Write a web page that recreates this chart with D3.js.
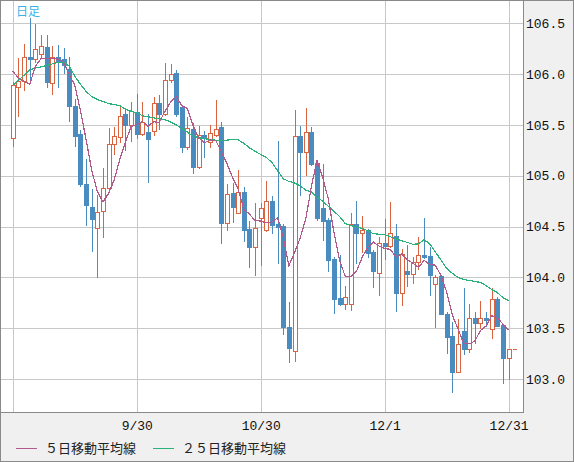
<!DOCTYPE html>
<html>
<head>
<meta charset="utf-8">
<script src="https://cdn.jsdelivr.net/npm/d3@7"></script>
<style>
  body { margin: 0; background: #fff; }
  svg { display: block; }
</style>
</head>
<body>
<div id="chart"></div>
<script>
// daily candles, 8/31 .. 12/31 (89 trading days)
const opens = [105.37,105.875,105.93,106.165,106.145,106.2,106.266,105.917,106.165,106.148,
  106.046,105.684,105.408,104.92,104.697,104.49,104.657,104.882,105.309,105.382,
  105.605,105.503,105.628,105.414,105.434,105.444,105.714,105.612,105.947,106.007,
  105.674,105.283,105.46,105.089,105.398,105.336,105.398,105.48,104.536,104.829,
  104.638,104.839,104.474,104.3,104.586,104.467,104.75,104.523,104.503,103.516,
  103.28,105.395,105.237,105.431,105.125,104.684,104.562,104.178,103.793,103.74,
  103.74,104.53,104.441,104.464,104.248,104.046,104.34,104.307,104.412,103.85,
  104.059,104.036,104.147,104.225,104.206,103.938,104.01,103.644,103.42,103.072,
  103.472,103.298,103.597,103.548,103.597,103.489,103.79,103.528,103.21];
const highs = [105.92,106.155,106.296,106.556,106.49,106.385,106.385,106.276,106.286,106.253,
  106.165,105.76,105.447,105.168,104.865,104.806,105.078,105.474,105.48,105.684,
  105.645,105.724,105.803,105.724,105.612,105.776,105.79,106.105,106.099,106.04,
  105.69,105.58,105.516,105.493,105.44,105.5,105.747,105.53,104.918,104.93,
  105.056,104.888,104.553,104.73,104.727,104.951,104.8,105.345,104.523,103.757,
  105.648,105.49,105.668,105.484,105.148,105.115,104.58,104.2,104.217,103.914,
  104.635,104.75,104.602,104.48,104.265,104.402,104.575,104.739,104.526,104.275,
  104.32,104.2,104.402,104.585,104.297,104.02,104.02,103.66,103.564,103.592,
  103.898,103.734,103.656,103.767,103.656,103.898,103.81,103.54,103.295];
const lows = [105.29,105.59,105.845,105.92,106.12,106.155,105.875,105.806,105.875,106.007,
  105.54,105.29,104.9,104.52,104.263,104.0,104.4,104.86,105.21,105.33,
  105.25,105.342,105.375,105.398,104.94,105.398,105.457,105.6,105.92,105.586,
  105.234,105.26,105.03,105.08,105.188,105.286,105.39,104.339,104.467,104.546,
  104.63,104.355,104.102,104.026,104.118,104.46,104.438,104.14,103.444,103.164,
  103.181,104.81,105.007,105.11,104.56,104.365,104.062,103.651,103.73,103.684,
  103.681,104.141,104.25,104.2,103.905,103.827,104.18,104.3,103.67,103.732,
  103.92,103.944,104.085,104.19,103.824,103.513,103.64,103.258,102.876,103.07,
  103.246,103.269,103.357,103.498,103.518,103.407,103.52,102.964,102.997];
const closes = [105.89,105.93,106.165,106.145,106.25,106.276,105.924,106.17,106.12,106.089,
  105.687,105.39,104.914,104.714,104.572,104.64,104.882,105.316,105.388,105.586,
  105.497,105.635,105.414,105.533,105.362,105.711,105.612,105.947,106.0,105.612,
  105.283,105.474,105.089,105.398,105.378,105.418,105.457,104.536,104.816,104.694,
  104.836,104.467,104.3,104.49,104.681,104.747,104.513,104.497,103.51,103.303,
  105.391,105.237,105.428,105.118,104.586,104.556,104.168,103.783,103.737,103.809,
  104.53,104.438,104.464,104.24,104.062,104.34,104.307,104.438,103.85,104.232,
  104.036,104.147,104.225,104.2,104.023,104.003,103.644,103.415,103.072,103.343,
  103.298,103.597,103.548,103.597,103.577,103.784,103.525,103.21,103.295];

const ma5 = [106.03,105.96,105.93,105.90,106.076,106.153,106.152,106.153,106.148,106.116,
  105.998,105.891,105.64,105.359,105.055,104.846,104.744,104.825,104.96,105.162,
  105.334,105.484,105.504,105.533,105.488,105.531,105.526,105.633,105.726,105.776,
  105.691,105.663,105.492,105.371,105.324,105.351,105.348,105.237,105.121,104.984,
  104.868,104.67,104.623,104.557,104.555,104.537,104.546,104.586,104.39,104.114,
  104.243,104.388,104.574,104.895,105.152,104.985,104.771,104.442,104.166,104.011,
  104.005,104.059,104.196,104.296,104.347,104.309,104.283,104.277,104.199,104.233,
  104.173,104.141,104.098,104.168,104.126,104.12,104.019,103.857,103.631,103.495,
  103.354,103.345,103.372,103.477,103.523,103.621,103.606,103.539,103.478];
const ma25 = [105.89,105.94,105.99,106.04,106.06,106.07,106.085,106.10,106.115,106.12,
  106.08,105.98,105.90,105.83,105.78,105.75,105.73,105.71,105.70,105.69,
  105.655,105.635,105.62,105.59,105.58,105.57,105.56,105.55,105.53,105.50,
  105.465,105.43,105.39,105.375,105.365,105.358,105.35,105.345,105.35,105.358,
  105.352,105.32,105.275,105.24,105.21,105.18,105.13,105.05,104.97,104.945,
  104.93,104.90,104.86,104.84,104.79,104.75,104.70,104.65,104.60,104.53,
  104.51,104.497,104.48,104.46,104.43,104.425,104.42,104.40,104.38,104.36,
  104.345,104.325,104.33,104.37,104.33,104.25,104.17,104.09,104.04,104.00,
  103.98,103.97,103.96,103.95,103.92,103.88,103.85,103.80,103.77];

const tickIdx = [0, 22, 44, 66, 88];
const tickLabels = ['', '9/30', '10/30', '12/1', '12/31'];
const yTicks = [103.0, 103.5, 104.0, 104.5, 105.0, 105.5, 106.0, 106.5];
const legendLabels = ['５日移動平均線', '２５日移動平均線'];

const UpColor = '#db6440';
const DownColor = '#4a8cc0';
const Ma5Color = '#b35a8c';
const Ma25Color = '#2bb27a';
const GridColor = '#c8c8c8';
const BorderColor = '#8a8a8a';

const width = 574;
const height = 462;
const plotRight = 523;
const plotBottom = 412;

const svg = d3
  .select('#chart')
  .append('svg')
  .attr('width', width)
  .attr('height', height);

svg.append('rect').attr('width', width).attr('height', height).attr('fill', '#f0f0f0');

svg
  .append('rect')
  .attr('x', 0.5)
  .attr('y', 0.5)
  .attr('width', plotRight)
  .attr('height', plotBottom)
  .attr('fill', '#fff')
  .attr('stroke', BorderColor);

const xScale = d3.scaleLinear().domain([0, closes.length - 1]).range([12.8, 508.6]);
const yScale = d3.scaleLinear().domain([103, 106.5]).range([379, 23.3]);

const px = (i) => Math.round(xScale(i));
const py = (v) => Math.round(yScale(v));

// grid
const grid = svg.append('g').attr('shape-rendering', 'crispEdges');
grid
  .selectAll('.hgrid')
  .data(yTicks)
  .join('line')
  .attr('x1', 1)
  .attr('x2', plotRight)
  .attr('y1', (d) => py(d) + 0.5)
  .attr('y2', (d) => py(d) + 0.5)
  .attr('stroke', GridColor);
grid
  .selectAll('.vgrid')
  .data(tickIdx)
  .join('line')
  .attr('x1', (d) => px(d) + 0.5)
  .attr('x2', (d) => px(d) + 0.5)
  .attr('y1', 1)
  .attr('y2', plotBottom)
  .attr('stroke', GridColor);

// candles
const candles = svg.append('g').attr('shape-rendering', 'crispEdges');
const idx = d3.range(closes.length);

candles
  .selectAll('.wick')
  .data(idx)
  .join('line')
  .attr('x1', (i) => px(i) + 0.5)
  .attr('x2', (i) => px(i) + 0.5)
  .attr('y1', (i) => py(highs[i]))
  .attr('y2', (i) => py(lows[i]) + 1)
  .attr('stroke', (i) => (closes[i] >= opens[i] ? UpColor : DownColor));

candles
  .selectAll('.down')
  .data(idx.filter((i) => closes[i] < opens[i]))
  .join('rect')
  .attr('x', (i) => px(i) - 2)
  .attr('y', (i) => py(opens[i]))
  .attr('width', 5)
  .attr('height', (i) => Math.max(2, py(closes[i]) - py(opens[i]) + 1))
  .attr('fill', DownColor);

candles
  .selectAll('.up')
  .data(idx.filter((i) => closes[i] >= opens[i]))
  .join('rect')
  .attr('x', (i) => px(i) - 1.5)
  .attr('y', (i) => py(closes[i]) + 0.5)
  .attr('width', 4)
  .attr('height', (i) => Math.max(1, py(opens[i]) - py(closes[i])))
  .attr('fill', '#fff')
  .attr('stroke', UpColor);

// last price marker
const last = closes.length - 1;
svg
  .append('line')
  .attr('shape-rendering', 'crispEdges')
  .attr('x1', px(last) + 4)
  .attr('x2', px(last) + 8)
  .attr('y1', py(closes[last]) + 0.5)
  .attr('y2', py(closes[last]) + 0.5)
  .attr('stroke', UpColor);

// moving averages (drawn without antialiasing, like the original)
const maLine = (arr) =>
  d3
    .line()
    .x((i) => xScale(i))
    .y((i) => yScale(arr[i]))(idx);

svg
  .append('path')
  .attr('d', maLine(ma25))
  .attr('fill', 'none')
  .attr('shape-rendering', 'crispEdges')
  .attr('stroke', Ma25Color)
  .attr('stroke-width', 1.2);
svg
  .append('path')
  .attr('d', maLine(ma5))
  .attr('fill', 'none')
  .attr('shape-rendering', 'crispEdges')
  .attr('stroke', Ma5Color)
  .attr('stroke-width', 1.2);

// axes
const yAxis = svg
  .append('g')
  .attr('transform', `translate(${plotRight},0)`)
  .call(
    d3
      .axisRight(yScale)
      .tickValues(yTicks)
      .tickFormat(d3.format('.1f'))
      .tickSize(0)
      .tickPadding(3)
  );
yAxis.select('.domain').remove();
yAxis
  .selectAll('text')
  .style('font-family', "'Liberation Mono', 'DejaVu Sans Mono', monospace")
  .style('font-size', '13px')
  .attr('fill', '#111');

const xAxis = svg
  .append('g')
  .attr('transform', `translate(0,${plotBottom})`)
  .call(
    d3
      .axisBottom(xScale)
      .tickValues(tickIdx.slice(1))
      .tickFormat((d) => tickLabels[tickIdx.indexOf(d)])
      .tickSize(0)
      .tickPadding(9)
  );
xAxis.select('.domain').remove();
xAxis
  .selectAll('text')
  .style('font-family', "'Liberation Mono', 'DejaVu Sans Mono', monospace")
  .style('font-size', '13px')
  .attr('fill', '#111');

// title
svg
  .append('text')
  .attr('x', 16)
  .attr('y', 16)
  .style('font-family', "'Noto Sans CJK JP', sans-serif")
  .style('font-size', '12px')
  .attr('fill', '#3ab2e6')
  .text('日足');

// legend
const legend = svg.append('g').attr('transform', 'translate(0,448)');
const legendX = [16, 153];
const legendColors = [Ma5Color, Ma25Color];
legendLabels.forEach((label, k) => {
  legend
    .append('line')
    .attr('shape-rendering', 'crispEdges')
    .attr('x1', legendX[k])
    .attr('x2', legendX[k] + 21)
    .attr('y1', 0.5)
    .attr('y2', 0.5)
    .attr('stroke', legendColors[k]);
  legend
    .append('text')
    .attr('x', legendX[k] + 29)
    .attr('y', 5)
    .style('font-family', "'Noto Sans CJK JP', sans-serif")
    .style('font-size', '13px')
    .attr('fill', '#222')
    .text(label);
});

// outer frame
svg
  .append('rect')
  .attr('x', 0.5)
  .attr('y', 0.5)
  .attr('width', width - 1)
  .attr('height', height - 1)
  .attr('fill', 'none')
  .attr('stroke', BorderColor);
</script>
</body>
</html>
